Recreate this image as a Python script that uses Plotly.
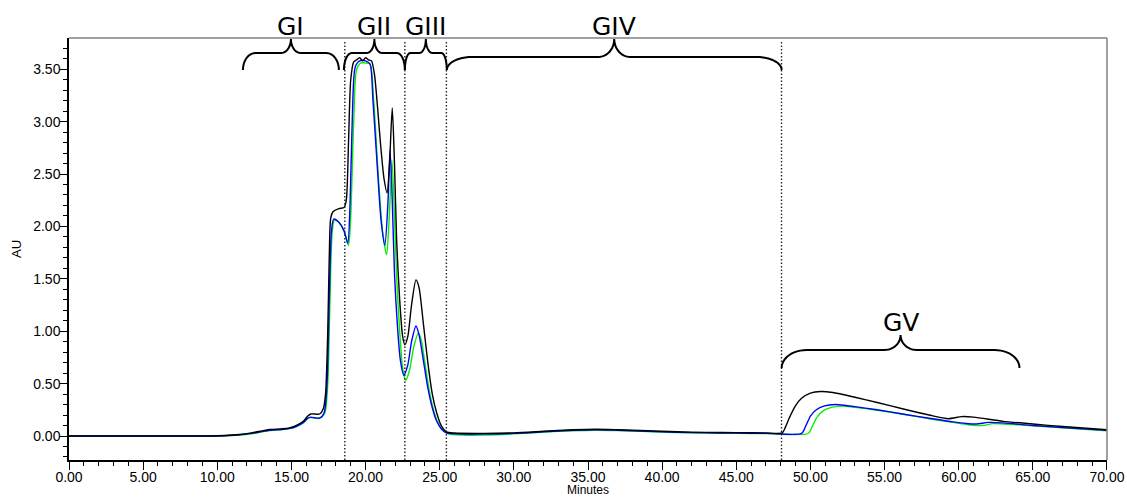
import math
import plotly.graph_objects as go

# ---- chromatogram traces (time in minutes, absorbance in AU) ----
black_t = [0, 9.5, 10.5, 11.5, 12.3, 12.9, 13.5, 14.3, 14.8, 15.3, 15.8, 16.1, 16.3, 16.9,
           17.15, 17.3, 17.45, 17.55, 17.65, 17.8, 18.2, 18.55, 18.7, 18.85, 19.0, 19.2,
           19.4, 19.6, 19.8, 20.0, 20.2, 20.4, 20.6, 20.8, 21.0, 21.25, 21.45, 21.6, 21.8,
           21.95, 22.1, 22.3, 22.5, 22.65, 22.85, 23.1, 23.4, 23.6, 23.9, 24.2, 24.5, 24.8,
           25.1, 25.45, 26, 28, 30, 32, 34, 35.5, 37, 39, 41, 43, 45, 47, 48.1, 48.3, 48.6,
           49.0, 49.4, 50.0, 50.7, 51.5, 53, 54.5, 56.2, 58, 59.3, 60.2, 61, 63, 65, 67, 70]
black_au = [0, 0, 0.005, 0.015, 0.03, 0.045, 0.062, 0.068, 0.075, 0.10, 0.14, 0.19, 0.21, 0.21,
            0.26, 0.4, 1.0, 1.7, 2.08, 2.14, 2.17, 2.18, 2.25, 2.8, 3.4, 3.57,
            3.59, 3.61, 3.58, 3.61, 3.59, 3.58, 3.45, 3.15, 2.8, 2.45, 2.32, 2.55, 3.13,
            2.6, 1.85, 1.3, 0.95, 0.87, 0.95, 1.25, 1.49, 1.42, 1.07, 0.7, 0.4, 0.22,
            0.1, 0.04, 0.028, 0.025, 0.03, 0.045, 0.06, 0.065, 0.06, 0.05, 0.04, 0.035, 0.032, 0.03, 0.03, 0.08, 0.18,
            0.29, 0.36, 0.41, 0.425, 0.415, 0.37, 0.32, 0.26, 0.2, 0.165, 0.185, 0.18, 0.14, 0.115, 0.09, 0.06]

blue_t = [0, 9.5, 10.5, 11.5, 12.3, 12.9, 13.5, 14.3, 14.8, 15.3, 15.8, 16.1, 16.3, 16.9,
          17.2, 17.4, 17.55, 17.7, 17.85, 18.2, 18.55, 18.8, 18.95, 19.1, 19.3, 19.6, 20.0,
          20.3, 20.5, 20.8, 21.05, 21.3, 21.5, 21.65, 21.8, 21.95, 22.15, 22.35, 22.58, 22.85,
          23.1, 23.4, 23.6, 23.9, 24.2, 24.5, 24.8, 25.1, 25.45, 26, 28, 30, 32, 34, 35.5, 37,
          39, 41, 43, 45, 47, 49.4, 49.7, 50.0, 50.4, 50.9, 51.7, 53, 54.5, 56.2, 58, 59.6,
          60.5, 61.2, 62, 63, 65, 67, 70]
blue_au = [0, 0, 0.003, 0.012, 0.025, 0.04, 0.055, 0.062, 0.07, 0.09, 0.13, 0.17, 0.18, 0.17,
           0.22, 0.5, 1.3, 1.95, 2.07, 2.04, 1.96, 1.84, 2.2, 3.0, 3.52, 3.58, 3.58,
           3.55, 3.2, 2.55, 2.05, 1.82, 2.2, 2.73, 2.25, 1.55, 1.05, 0.72, 0.58, 0.68,
           0.9, 1.05, 0.97, 0.72, 0.46, 0.27, 0.14, 0.07, 0.03, 0.02, 0.018, 0.025, 0.04, 0.055, 0.06, 0.055,
           0.045, 0.035, 0.03, 0.027, 0.025, 0.025, 0.1, 0.19, 0.25, 0.285, 0.30, 0.28, 0.25, 0.21, 0.17, 0.135,
           0.12, 0.115, 0.13, 0.125, 0.1, 0.08, 0.055]

green_t = [0, 9.5, 10.5, 11.5, 12.3, 12.9, 13.5, 14.3, 14.8, 15.3, 15.8, 16.1, 16.3, 16.9,
           17.25, 17.45, 17.6, 17.75, 17.9, 18.2, 18.55, 18.85, 19.0, 19.2, 19.4, 19.7, 20.0,
           20.3, 20.55, 20.85, 21.15, 21.42, 21.6, 21.78, 21.95, 22.1, 22.3, 22.5, 22.7, 22.95,
           23.25, 23.55, 23.75, 24.0, 24.3, 24.6, 24.9, 25.2, 25.6, 26.5, 28, 30, 32, 34, 35.5,
           37, 39, 41, 43, 45, 47, 49.85, 50.15, 50.45, 50.9, 51.5, 52.2, 54, 56.2, 58, 59.6,
           60.8, 61.6, 62.3, 63, 65, 67, 70]
green_au = [0, 0, 0.002, 0.01, 0.022, 0.037, 0.052, 0.06, 0.068, 0.088, 0.125, 0.165, 0.175, 0.17,
            0.22, 0.5, 1.3, 1.95, 2.06, 2.04, 1.95, 1.82, 2.1, 3.0, 3.5, 3.56, 3.56,
            3.55, 3.2, 2.5, 1.95, 1.73, 2.1, 2.63, 2.1, 1.5, 1.0, 0.65, 0.53, 0.62,
            0.85, 0.98, 0.92, 0.7, 0.43, 0.24, 0.12, 0.06, 0.02, 0.008, 0.008, 0.02, 0.038, 0.05, 0.055,
            0.052, 0.043, 0.033, 0.028, 0.025, 0.024, 0.024, 0.1, 0.18, 0.245, 0.275, 0.285, 0.255, 0.21, 0.165, 0.13,
            0.105, 0.1, 0.118, 0.115, 0.098, 0.078, 0.05]

# ---- fraction windows (minutes) ----
fraction_cuts = [18.6, 22.65, 25.45, 48.05]
group_names = ["GI", "GII", "GIII", "GIV", "GV"]
group_start = [11.73, 18.54, 22.65, 25.48, 48.06]
group_end = [18.2, 22.65, 25.48, 48.06, 64.1]

x_ticks = [0, 5, 10, 15, 20, 25, 30, 35, 40, 45, 50, 55, 60, 65, 70]
y_ticks = [0.0, 0.5, 1.0, 1.5, 2.0, 2.5, 3.0, 3.5]

# ---- layout geometry ----
W, H = 1127, 498
ML, MR, MT, MB = 69, 20, 38, 38
XR = [0, 70.0005]
YR = [-0.229, 3.798]
PW = W - ML - MR
PH = H - MT - MB


def x_px(t):
    return ML + (t - XR[0]) / (XR[1] - XR[0]) * PW


def y_px(v):
    return MT + (YR[1] - v) / (YR[1] - YR[0]) * PH


def t_of(px):
    return XR[0] + (px - ML) / PW * (XR[1] - XR[0])


def v_of(py):
    return YR[1] - (py - MT) / PH * (YR[1] - YR[0])


def paper_y(py):
    return (H - MB - py) / PH


def brace_path(t0, t1, y_end, y_line, y_tip):
    """Curly brace between t0 and t1 (data), built in pixel space."""
    x0, x1 = x_px(t0), x_px(t1)
    xm = (x0 + x1) / 2
    w = x1 - x0
    c = min(0.13 * w, 25)
    a = min(0.06 * w + 4, 16)
    n = 12
    pts = []
    for i in range(n + 1):
        th = math.pi / 2 * i / n
        pts.append((x0 + c - c * math.cos(th), y_end - (y_end - y_line) * math.sin(th)))
    for i in range(n + 1):
        th = math.pi / 2 * i / n
        pts.append((xm - a + a * math.sin(th), y_tip + (y_line - y_tip) * math.cos(th)))
    for i in range(n, -1, -1):
        th = math.pi / 2 * i / n
        pts.append((xm + a - a * math.sin(th), y_tip + (y_line - y_tip) * math.cos(th)))
    for i in range(n, -1, -1):
        th = math.pi / 2 * i / n
        pts.append((x1 - c + c * math.cos(th), y_end - (y_end - y_line) * math.sin(th)))
    return "M " + " L ".join(f"{t_of(px):.4f},{v_of(py):.4f}" for px, py in pts)


fig = go.Figure()
for t, v, col in [(green_t, green_au, "#00f000"), (blue_t, blue_au, "#0000ff"),
                  (black_t, black_au, "#000000")]:
    fig.add_trace(go.Scatter(x=t, y=v, mode="lines",
                             line=dict(color=col, width=1.4, shape="spline", smoothing=0.7),
                             showlegend=False, hoverinfo="skip"))

shapes = []
# dotted fraction cut lines
for cx in fraction_cuts:
    shapes.append(dict(type="line", xref="x", yref="paper", x0=cx, x1=cx, y0=0, y1=0.995,
                       line=dict(color="#222222", width=1.4, dash="1.5px,2px")))
# grey top and right frame
shapes.append(dict(type="line", xref="paper", yref="paper", x0=0, x1=1, y0=1, y1=1,
                   line=dict(color="#808080", width=1.5)))
shapes.append(dict(type="line", xref="paper", yref="paper", x0=1, x1=1, y0=0, y1=1,
                   line=dict(color="#808080", width=1.5)))

annotations = []
for i, name in enumerate(group_names):
    if name == "GV":
        ye, yl, yt, ylab = 368, 350, 335, 323
    elif name == "GIV":
        ye, yl, yt, ylab = 70, 57, 39, 26.5
    else:
        ye, yl, yt, ylab = 70, 53, 39, 26.5
    shapes.append(dict(type="path", xref="x", yref="y",
                       path=brace_path(group_start[i], group_end[i], ye, yl, yt),
                       line=dict(color="black", width=2)))
    annotations.append(dict(x=(group_start[i] + group_end[i]) / 2, y=paper_y(ylab),
                            xref="x", yref="paper",
                            text=name, showarrow=False, xanchor="center", yanchor="middle",
                            font=dict(family="DejaVu Sans", size=25, color="black")))

annotations.append(dict(x=(16 - ML) / PW, y=0.5, xref="paper", yref="paper", text="AU",
                        textangle=-90, showarrow=False, xanchor="center", yanchor="middle",
                        font=dict(family="Liberation Sans, Arial", size=13, color="black")))
annotations.append(dict(x=0.5, y=paper_y(490), xref="paper", yref="paper", text="Minutes",
                        showarrow=False, xanchor="center", yanchor="middle",
                        font=dict(family="Liberation Sans, Arial", size=12, color="black")))

fig.update_layout(
    template="none",
    width=W, height=H,
    margin=dict(l=ML, r=MR, t=MT, b=MB, pad=0, autoexpand=False),
    paper_bgcolor="white", plot_bgcolor="white",
    shapes=shapes, annotations=annotations,
)
fig.update_xaxes(range=XR, tickmode="array", tickvals=x_ticks, automargin=False,
                 ticktext=[f"{v:.2f}" for v in x_ticks], ticklabelstandoff=-5,
                 ticks="outside", ticklen=8, tickwidth=1, tickcolor="black",
                 showline=True, linecolor="black", linewidth=1.5,
                 showgrid=False, zeroline=False,
                 minor=dict(ticks="outside", ticklen=4, tickwidth=1, tickcolor="black",
                            tick0=0, dtick=1, showgrid=False),
                 tickfont=dict(family="Liberation Sans, Arial", size=14, color="black"))
fig.update_yaxes(range=YR, tickmode="array", tickvals=y_ticks, automargin=False,
                 ticktext=[f"{v:.2f}" for v in y_ticks], ticklabelstandoff=-3,
                 ticks="outside", ticklen=7, tickwidth=1, tickcolor="black",
                 showline=True, linecolor="black", linewidth=1.5,
                 showgrid=False, zeroline=False,
                 minor=dict(ticks="outside", ticklen=4, tickwidth=1, tickcolor="black",
                            tick0=0, dtick=0.1, showgrid=False),
                 tickfont=dict(family="Liberation Sans, Arial", size=14, color="black"))

fig.write_html("out.html")
